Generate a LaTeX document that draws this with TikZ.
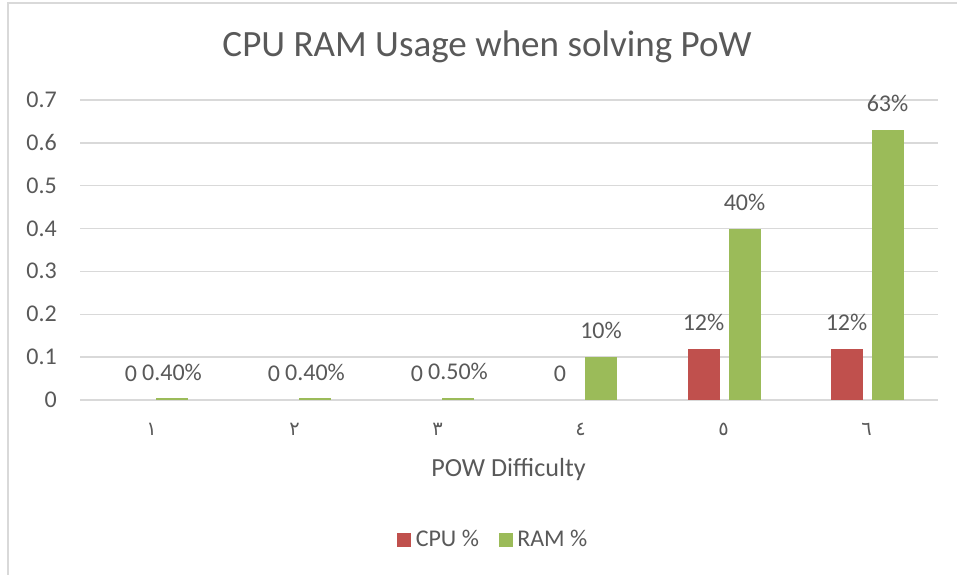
\documentclass[tikz,border=0pt]{standalone}
\usepackage{fontspec}
\setmainfont{Carlito}
\newfontfamily\arabicfont[Script=Arabic]{DejaVu Sans}
\TeXXeTstate=1
\usetikzlibrary{calc}

\definecolor{txtgray}{HTML}{595959}
\definecolor{gridgray}{HTML}{D9D9D9}
\definecolor{cpured}{HTML}{C0504D}
\definecolor{ramgreen}{HTML}{9BBB59}

\tikzset{
  grid line/.style={draw=gridgray,line width=1.1},
  lbl/.style={text=txtgray,inner sep=0pt,font=\fontsize{18}{20}\selectfont},
  cpu bar/.style={fill=cpured},
  ram bar/.style={fill=ramgreen}
}

\begin{document}
\begin{tikzpicture}[x=0.75pt,y=-0.75pt]
                \useasboundingbox (0,0) rectangle (957,575);
                % chart frame (cut off at right and bottom)
                \draw[gridgray,line width=1.5] (957,2.5) -- (7.5,2.5) -- (7.5,575);
                % title
                \node[lbl,anchor=base,font=\fontsize{27.8}{32}\selectfont] (title) at(487,56.7) {CPU RAM Usage when solving PoW};
                % gridlines, 0.1 = 42.857
                \draw[grid line] (80,400) -- (938,400);
                \draw[grid line] (80,357.14) -- (938,357.14);
                \draw[grid line] (80,314.29) -- (938,314.29);
                \draw[grid line] (80,271.43) -- (938,271.43);
                \draw[grid line] (80,228.57) -- (938,228.57);
                \draw[grid line] (80,185.71) -- (938,185.71);
                \draw[grid line] (80,142.86) -- (938,142.86);
                \draw[grid line] (80,100) -- (938,100);
                % y axis labels
                \node[lbl,anchor=base east] (y0) at(57,407.5) {0};
                \node[lbl,anchor=base east] (y1) at(57,364.6) {0.1};
                \node[lbl,anchor=base east] (y2) at(57,321.8) {0.2};
                \node[lbl,anchor=base east] (y3) at(57,278.9) {0.3};
                \node[lbl,anchor=base east] (y4) at(57,236.1) {0.4};
                \node[lbl,anchor=base east] (y5) at(57,193.2) {0.5};
                \node[lbl,anchor=base east] (y6) at(57,150.4) {0.6};
                \node[lbl,anchor=base east] (y7) at(57,107.5) {0.7};
                % bars: cpu at c-20.5, ram at c+20.5, width 32
                \fill[ram bar] (156,400) rectangle (188,398.29);
                \fill[ram bar] (299,400) rectangle (331,398.29);
                \fill[ram bar] (442,400) rectangle (474,397.86);
                \fill[ram bar] (585,400) rectangle (617,357.14);
                \fill[cpu bar] (687.5,400) rectangle (719.5,348.57);
                \fill[ram bar] (728.5,400) rectangle (760.5,228.57);
                \fill[cpu bar] (830.5,400) rectangle (862.5,348.57);
                \fill[ram bar] (871.5,400) rectangle (903.5,130);
                % data labels
                \node[lbl,anchor=base] (c1) at(131,381.7) {0};
                \node[lbl,anchor=base] (r1) at(172,380) {0.40\%};
                \node[lbl,anchor=base] (c2) at(274,381.7) {0};
                \node[lbl,anchor=base] (r2) at(315,380) {0.40\%};
                \node[lbl,anchor=base] (c3) at(417,381.7) {0};
                \node[lbl,anchor=base] (r3) at(458,379.6) {0.50\%};
                \node[lbl,anchor=base] (c4) at(560,381.7) {0};
                \node[lbl,anchor=base] (r4) at(601,338.8) {10\%};
                \node[lbl,anchor=base] (c5) at(703.5,330.3) {12\%};
                \node[lbl,anchor=base] (r5) at(744.5,210.3) {40\%};
                \node[lbl,anchor=base] (c6) at(846.5,330.3) {12\%};
                \node[lbl,anchor=base] (r6) at(887.5,111.7) {63\%};
                % category labels
                \node[lbl,anchor=base,font=\arabicfont\fontsize{14.5}{16}\selectfont] (x1) at(151.5,435) {\beginR ١\endR};
                \node[lbl,anchor=base,font=\arabicfont\fontsize{14.5}{16}\selectfont] (x2) at(294.5,435) {\beginR ٢\endR};
                \node[lbl,anchor=base,font=\arabicfont\fontsize{14.5}{16}\selectfont] (x3) at(437.5,435) {\beginR ٣\endR};
                \node[lbl,anchor=base,font=\arabicfont\fontsize{14.5}{16}\selectfont] (x4) at(580.5,435) {\beginR ٤\endR};
                \node[lbl,anchor=base,font=\arabicfont\fontsize{14.5}{16}\selectfont] (x5) at(723.5,435) {\beginR ٥\endR};
                \node[lbl,anchor=base,font=\arabicfont\fontsize{14.5}{16}\selectfont] (x6) at(866.5,435) {\beginR ٦\endR};
                % axis title
                \node[lbl,anchor=base,font=\fontsize{19.6}{22}\selectfont] (xt) at(508.5,476.7) {POW Difficulty};
                % legend
                \fill[cpu bar] (397,533) rectangle (411,547);
                \node[lbl,anchor=base west] (lc) at(415.5,546) {CPU \%};
                \fill[ram bar] (499,533) rectangle (513,547);
                \node[lbl,anchor=base west] (lr) at(517,546) {RAM \%};
            \end{tikzpicture}
\end{document}
